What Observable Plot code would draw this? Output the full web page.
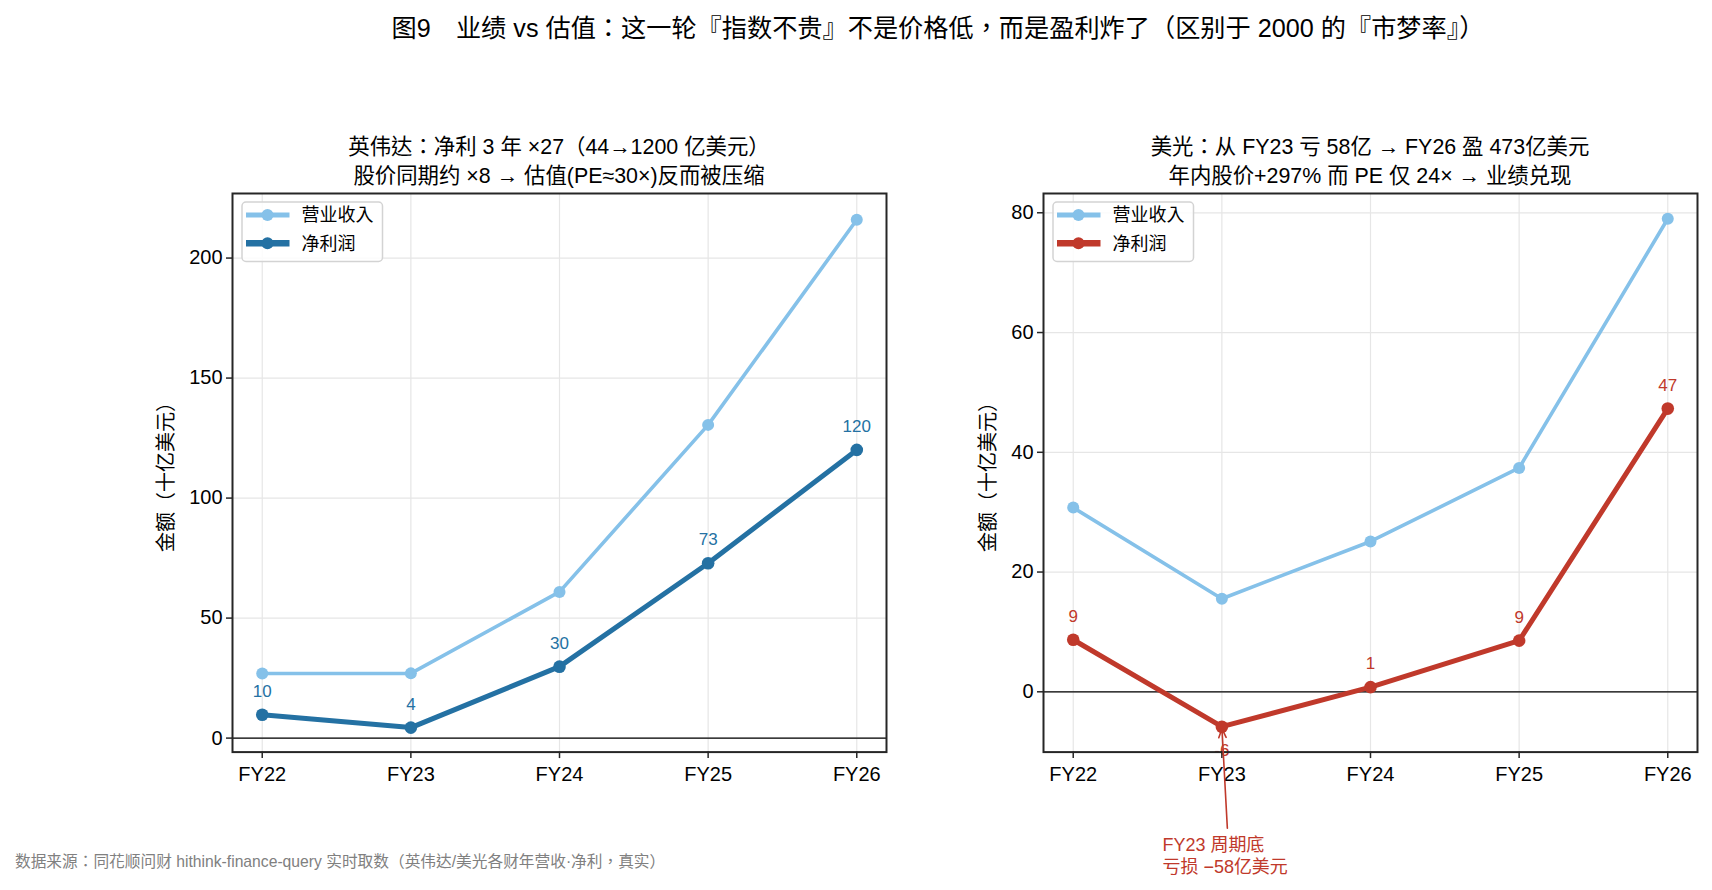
<!DOCTYPE html>
<html>
<head>
<meta charset="utf-8">
<script src="https://cdn.jsdelivr.net/npm/d3@7"></script>
<script src="https://cdn.jsdelivr.net/npm/@observablehq/plot@0.6"></script>
<style>
  html, body { margin: 0; padding: 0; background: #fff; }
  body { width: 1712px; height: 890px; position: relative; overflow: hidden;
         font-family: "Liberation Sans", "Noto Sans CJK TC", sans-serif; color: #000; }
  .abs { position: absolute; white-space: nowrap; }
  .center { transform: translate(-50%, -50%); text-align: center; }
  .ylab { position: absolute; white-space: nowrap; font-size: 20px; transform: translate(-50%, -50%) rotate(-90deg); }
  .legend { position: absolute; }
</style>
</head>
<body>
<script>
// ---------- data ----------
const categories = ["FY22", "FY23", "FY24", "FY25", "FY26"];
const seriesNames = ["营业收入", "净利润"];
const nvdaRevenue = [26.91, 26.97, 60.92, 130.50, 215.94];
const nvdaNetIncome = [9.75, 4.37, 29.76, 72.88, 120.07];
const muRevenue = [30.76, 15.54, 25.11, 37.38, 79.0];
const muNetIncome = [8.69, -5.83, 0.78, 8.54, 47.3];

const mainTitle = "图9　业绩 vs 估值：这一轮『指数不贵』不是价格低，而是盈利炸了（区别于 2000 的『市梦率』）";
const leftTitle = ["英伟达：净利 3 年 ×27（44→1200 亿美元）", "股价同期约 ×8 → 估值(PE≈30×)反而被压缩"];
const rightTitle = ["美光：从 FY23 亏 58亿 → FY26 盈 473亿美元", "年内股价+297% 而 PE 仅 24× → 业绩兑现"];
const yLabel = "金额（十亿美元）";
const caption = "数据来源：同花顺问财 hithink-finance-query 实时取数（英伟达/美光各财年营收·净利，真实）";
const annoLines = ["FY23 周期底", "亏损 −58亿美元"];
// annotation anchor (index units, value units)
const annoText = {x: 0.6, y: -27.3};
const annoArrow = {x1: 1.037, y1: -22.8, x2: 1, y2: -5.83};

const revColor = "#85C1E9";
const nvdaColor = "#2471A3";
const muColor = "#C0392B";
const FONT = "'Liberation Sans', 'Noto Sans CJK TC', sans-serif";

// ---------- layout ----------
const frameW = 654, frameH = 558.6, frameTop = 192.7;
const M = {left: 72, right: 12, top: 10, bottom: 140};

function makePanel({revenue, net, netColor, yDomain, yTicks, frameLeft, anno}) {
  const rev = categories.map((c, i) => ({i, v: revenue[i]}));
  const ni = categories.map((c, i) => ({i, v: net[i], t: Math.round(net[i]).toString()}));
  const marks = [
    Plot.gridX([0,1,2,3,4], {stroke: "#e6e6e6", strokeOpacity: 1, strokeWidth: 1.2}),
    Plot.gridY(yTicks, {stroke: "#e6e6e6", strokeOpacity: 1, strokeWidth: 1.2}),
    Plot.ruleY([0], {stroke: "#000", strokeWidth: 1.2}),
    Plot.line(rev, {x: "i", y: "v", stroke: revColor, strokeWidth: 3.6}),
    Plot.dot(rev, {x: "i", y: "v", fill: revColor, r: 6}),
    Plot.line(ni, {x: "i", y: "v", stroke: netColor, strokeWidth: 5}),
    Plot.dot(ni, {x: "i", y: "v", fill: netColor, r: 6.3}),
    Plot.text(ni.filter(d => d.v >= 0), {x: "i", y: "v", text: "t", dy: -23.5, fill: netColor, fontSize: 17}),
    Plot.text(ni.filter(d => d.v < 0), {x: "i", y: "v", text: "t", dy: 23.5, fill: netColor, fontSize: 17}),
    Plot.frame({stroke: "#262626", strokeWidth: 2}),
    Plot.axisX([0,1,2,3,4], {tickFormat: i => categories[i], tickSize: 6.5, tickPadding: 8, fontSize: 20, label: null, stroke: "#262626", strokeWidth: 1.5}),
    Plot.axisY(yTicks, {tickSize: 6, tickPadding: 4, fontSize: 20, label: null, stroke: "#262626", strokeWidth: 1.5})
  ];
  if (anno) {
    marks.push(Plot.arrow([annoArrow], {x1: "x1", y1: "y1", x2: "x2", y2: "y2", stroke: muColor, strokeWidth: 1.6, headLength: 9, headAngle: 45, insetEnd: 2}));
    marks.push(Plot.text([annoText], {x: "x", y: "y", text: () => annoLines.join("\n"), fill: muColor, fontSize: 18, textAnchor: "start", lineHeight: 1.22}));
  }
  const chart = Plot.plot({
    width: frameW + M.left + M.right,
    height: frameH + M.top + M.bottom,
    marginLeft: M.left, marginRight: M.right, marginTop: M.top, marginBottom: M.bottom,
    x: {type: "linear", domain: [-0.2, 4.2]},
    y: {type: "linear", domain: yDomain},
    style: {fontFamily: FONT, background: "transparent", overflow: "visible"},
    marks
  });
  const wrap = document.createElement("div");
  wrap.style.position = "absolute";
  wrap.style.left = (frameLeft - M.left) + "px";
  wrap.style.top = (frameTop - M.top) + "px";
  wrap.appendChild(chart);
  document.body.appendChild(wrap);
}

function addText(txt, x, y, size, extra = {}) {
  const d = document.createElement("div");
  d.className = "abs center";
  d.style.left = x + "px"; d.style.top = y + "px";
  d.style.fontSize = size + "px";
  Object.assign(d.style, extra);
  d.textContent = txt;
  document.body.appendChild(d);
  return d;
}

function addLegend(left, top, netColor) {
  const ns = "http://www.w3.org/2000/svg";
  const svg = document.createElementNS(ns, "svg");
  svg.setAttribute("width", 144); svg.setAttribute("height", 62);
  svg.setAttribute("class", "legend");
  svg.style.left = left + "px"; svg.style.top = top + "px";
  svg.style.position = "absolute";
  svg.innerHTML = `<rect x="1" y="1" width="140.5" height="59.5" rx="4" fill="rgba(255,255,255,0.85)" stroke="#d3d3d3" stroke-width="1.5"/>`;
  const colors = [revColor, netColor];
  const widths = [3.6, 5];
  seriesNames.forEach((name, k) => {
    const y = 14 + k * 28.3;
    svg.innerHTML += `<line x1="5" x2="48.5" y1="${y}" y2="${y}" stroke="${colors[k]}" stroke-width="${widths[k] + 1.5}"/>` +
      `<circle cx="26.5" cy="${y}" r="6" fill="${colors[k]}"/>` +
      `<text x="60.5" y="${y}" dy="0.36em" font-size="18" font-family="${FONT.replace(/'/g, "")}">${name}</text>`;
  });
  document.body.appendChild(svg);
}

// main title
addText(mainTitle, 938, 26, 25.2);

// left panel
makePanel({revenue: nvdaRevenue, net: nvdaNetIncome, netColor: nvdaColor,
  yDomain: [-5.83, 226.9], yTicks: [0, 50, 100, 150, 200], frameLeft: 232, anno: false});
// right panel
makePanel({revenue: muRevenue, net: muNetIncome, netColor: muColor,
  yDomain: [-10.07, 83.22], yTicks: [0, 20, 40, 60, 80], frameLeft: 1042.7, anno: true});

// subplot titles
addText(leftTitle[0], 559, 144, 21.4);
addText(leftTitle[1], 559, 172.5, 21.4);
addText(rightTitle[0], 1370, 144, 21.4);
addText(rightTitle[1], 1370, 172.5, 21.4);

// y labels
[164, 986].forEach(x => {
  const d = document.createElement("div");
  d.className = "ylab";
  d.style.left = x + "px"; d.style.top = "472px";
  d.textContent = yLabel;
  document.body.appendChild(d);
});

// legends
addLegend(241, 201, nvdaColor);
addLegend(1052, 201, muColor);

// caption
const cap = document.createElement("div");
cap.className = "abs";
cap.style.left = "15px"; cap.style.top = "860px";
cap.style.transform = "translateY(-50%)";
cap.style.fontSize = "15.7px"; cap.style.color = "#808080";
cap.textContent = caption;
document.body.appendChild(cap);
</script>
</body>
</html>
